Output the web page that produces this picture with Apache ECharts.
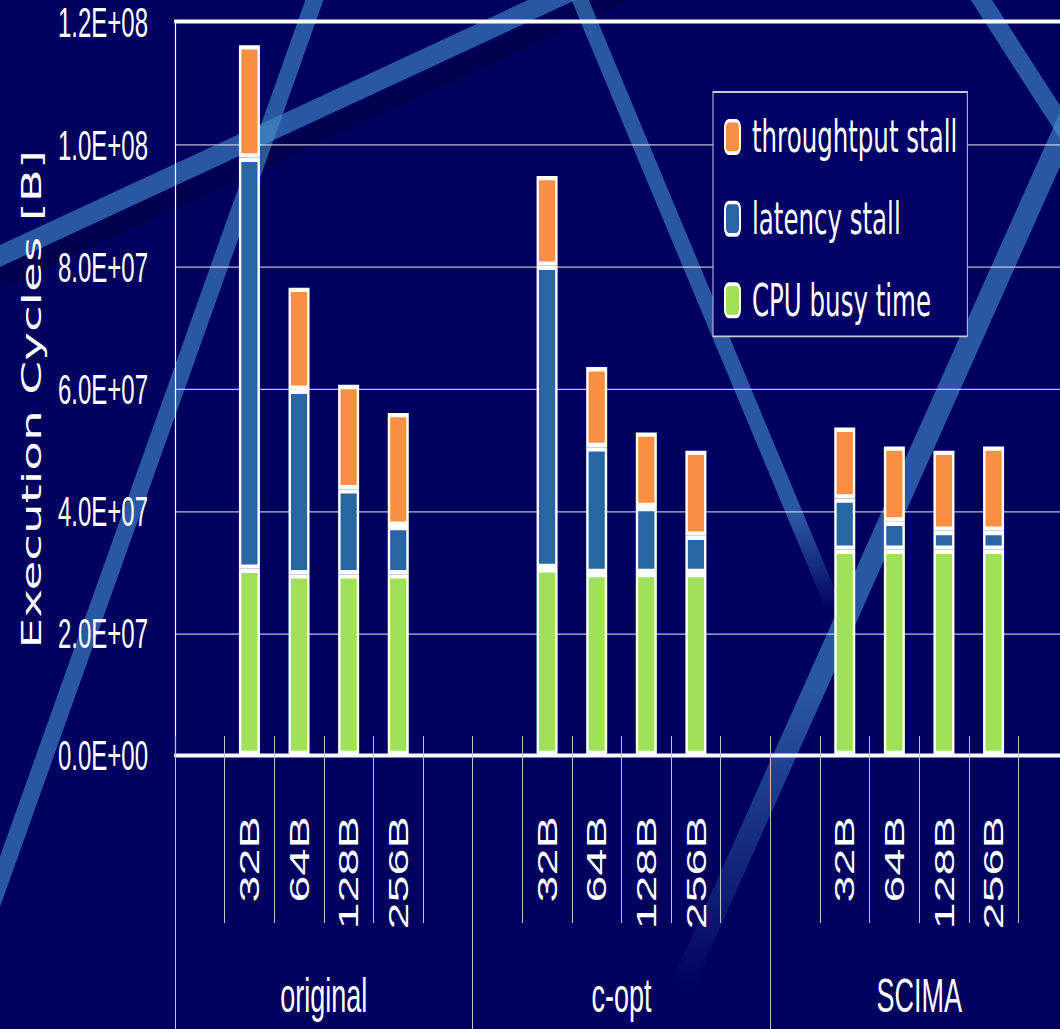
<!DOCTYPE html>
<html>
<head>
<meta charset="utf-8">
<script src="https://cdn.jsdelivr.net/npm/echarts@6/dist/echarts.min.js"></script>
<style>
html,body{margin:0;padding:0;background:#00005f;overflow:hidden;width:1060px;height:1029px}
#chart{width:1060px;height:572px;transform:scaleY(1.798951);transform-origin:0 0;overflow:hidden}
</style>
</head>
<body>
<div id="chart"></div>
<script>
// ---- data ----
const groups = ['original', 'c-opt', 'SCIMA'];
const sizes = ['32B', '64B', '128B', '256B'];
const cpuBusy        = [30.5e6, 29.6e6, 29.6e6, 29.6e6,  30.6e6, 29.8e6, 29.8e6, 29.8e6,  33.6e6, 33.6e6, 33.6e6, 33.6e6];
const latencyStall   = [67.3e6, 30.2e6, 13.9e6,  7.9e6,  49.5e6, 20.6e6, 10.8e6,  6.1e6,   8.4e6,  4.6e6,  3.1e6,  3.1e6];
const throughputStall= [18.4e6, 16.7e6, 17.1e6, 18.5e6,  14.7e6, 13.1e6, 12.2e6, 13.9e6,  11.6e6, 12.3e6, 13.1e6, 13.8e6];
const yTickLabels = ['0.0E+00', '2.0E+07', '4.0E+07', '6.0E+07', '8.0E+07', '1.0E+08', '1.2E+08'];
const seriesNames = ['CPU busy time', 'latency stall', 'throughtput stall'];

// ---- layout helpers ----
const S = 1029 / 572; // vertical stretch of the picture
const slotLabels = [];
groups.forEach(() => { slotLabels.push('', ...sizes, ''); });
function slotData(arr) {
  const out = [];
  groups.forEach((g, gi) => {
    out.push(null);
    sizes.forEach((s, si) => out.push(arr[gi * sizes.length + si]));
    out.push(null);
  });
  return out;
}
function band(x1, y1, x2, y2, w) {
  const dx = x2 - x1, dy = y2 - y1, L = Math.hypot(dx, dy);
  const nx = -dy / L * w / 2, ny = dx / L * w / 2;
  return [[x1 + nx, (y1 + ny) / S], [x2 + nx, (y2 + ny) / S], [x2 - nx, (y2 - ny) / S], [x1 - nx, (y1 - ny) / S]];
}
const bandColor = 'rgba(70,145,205,0.6)';
function fade(stops) {
  return { type: 'linear', x: 0, y: 0, x2: 0, y2: 1, colorStops: stops };
}
const deco = [
  { shape: band(-30, 292, 620, -6, 20), fill: 'rgba(0,0,30,0.25)' },
  { shape: band(318, -10, -60, 1050, 17), fill: bandColor },
  { shape: band(-30, 270, 610, -27, 20), fill: bandColor },
  { shape: band(576, -10, 834, 608, 16), fill: fade([{offset:0,color:bandColor},{offset:0.85,color:bandColor},{offset:1,color:'rgba(70,145,205,0)'}]) },
  { shape: band(975, -10, 1110, 200, 18), fill: bandColor },
  { shape: band(1100, 50, 680, 990, 22), fill: fade([{offset:0,color:bandColor},{offset:0.68,color:bandColor},{offset:1,color:'rgba(70,145,205,0)'}]) }
];

const chart = echarts.init(document.getElementById('chart'), null, { renderer: 'svg' });
const whiteBorder = { borderColor: '#ffffff', borderWidth: 2.4 };
const option = {
  animation: false,
  backgroundColor: '#00005f',
  graphic: deco.map(d => ({ type: 'polygon', silent: true, z: -10, shape: { points: d.shape }, style: { fill: d.fill } })),
  grid: { left: 175, right: -8, top: 22 / S, bottom: 572 - 755 / S, containLabel: false, outerBoundsMode: 'none' },
  legend: {
    orient: 'vertical',
    left: 713, top: 92 / S,
    data: ['throughtput stall', 'latency stall', 'CPU busy time'],
    selectedMode: false,
    backgroundColor: '#000066',
    borderColor: '#c8c8dc', borderWidth: 1, borderRadius: 0,
    padding: [12.5, 10, 7.5, 11],
    itemWidth: 15, itemHeight: 18, itemGap: 20.4,
    textStyle: { color: '#ffffff', fontSize: 24.5, fontFamily: 'DejaVu Sans', lineHeight: 24, padding: [0, 0, 0, 7] }
  },
  xAxis: [
    {
      type: 'category', data: slotLabels, position: 'bottom', offset: 0,
      axisLine: { show: true, lineStyle: { color: '#ffffff', width: 2.2 } },
      axisTick: { show: true, inside: true, length: 19 / S, interval: 0, lineStyle: { color: '#c0c0d4', width: 1 } },
      axisLabel: { interval: 0, rotate: 90, margin: 34, color: '#ffffff', fontSize: 27, fontFamily: 'Liberation Sans' },
      splitLine: { show: false }
    },
    {
      type: 'category', data: slotLabels, position: 'bottom', offset: 0,
      axisLine: { show: false },
      axisTick: { show: true, length: (923 - 755) / S, interval: 0, lineStyle: { color: '#c0c0d4', width: 1 } },
      axisLabel: { show: false }, splitLine: { show: false }
    },
    {
      type: 'category', data: groups, position: 'bottom', offset: 0,
      axisLine: { show: false },
      axisTick: { show: true, length: 280 / S, interval: 0, lineStyle: { color: '#c0c0d4', width: 1 } },
      axisLabel: { interval: 0, margin: 120, color: '#ffffff', fontSize: 27, fontFamily: 'Liberation Sans' },
      splitLine: { show: false }
    },
    {
      type: 'category', data: groups, position: 'top', offset: 0,
      axisLine: { show: true, lineStyle: { color: '#ffffff', width: 2.2 } },
      axisTick: { show: false }, axisLabel: { show: false }, splitLine: { show: false }
    }
  ],
  yAxis: {
    type: 'value', min: 0, max: 1.2e8, interval: 2e7,
    name: 'Execution Cycles [B]', nameLocation: 'middle', nameGap: 130,
    nameTextStyle: { color: '#ffffff', fontSize: 27, fontFamily: 'DejaVu Sans', padding: [0, 12, 0, 0] },
    axisLine: { show: true, lineStyle: { color: '#ffffff', width: 1.2 } },
    axisTick: { show: false },
    axisLabel: {
      margin: 27, color: '#ffffff', fontSize: 24, fontFamily: 'Liberation Sans',
      lineHeight: 16, padding: [8, 0, 0, 0],
      formatter: v => yTickLabels[Math.round(v / 2e7)]
    },
    splitLine: { show: true, lineStyle: { color: 'rgba(220,220,240,0.85)', width: 0.7 } }
  },
  series: [
    { name: seriesNames[0], type: 'bar', stack: 'total', barWidth: 21, data: slotData(cpuBusy), itemStyle: Object.assign({ color: '#A1E15A' }, whiteBorder) },
    { name: seriesNames[1], type: 'bar', stack: 'total', barWidth: 21, data: slotData(latencyStall), itemStyle: Object.assign({ color: '#2865A3' }, whiteBorder) },
    { name: seriesNames[2], type: 'bar', stack: 'total', barWidth: 21, data: slotData(throughputStall), itemStyle: Object.assign({ color: '#F99045' }, whiteBorder) }
  ]
};
chart.setOption(option);
</script>
</body>
</html>
